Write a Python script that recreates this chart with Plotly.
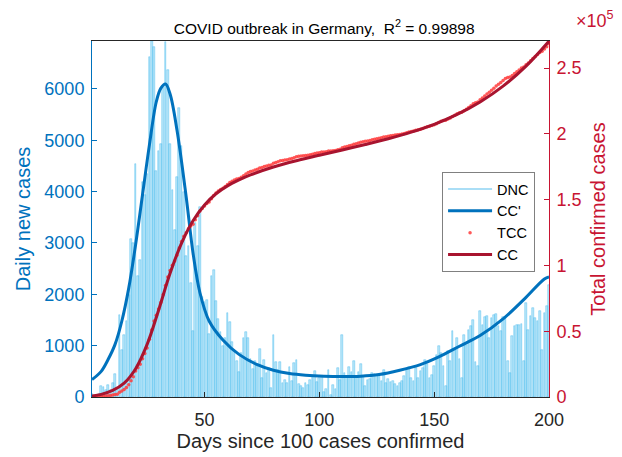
import numpy as np
import plotly.graph_objects as go

# ---- data ----
days = list(range(1, 201))
dnc = [51, 29, 37, 66, 220, 188, 129, 241, 136, 281,
       451, 170, 1597, 910, 1210, 1477, 1985, 3070, 2993, 4528,
       2365, 2660, 4183, 3930, 4337, 6615, 6933, 6824, 4400, 4790,
       4923, 6064, 6922, 6365, 4933, 4031, 3251, 4289, 5633, 4885,
       3990, 2737, 2946, 2218, 1287, 3394, 2945, 3699, 1945, 1842,
       1881, 1226, 2357, 2481, 1870, 1514, 1257, 988, 1154, 1627,
       1470, 1068, 890, 697, 488, 855, 1155, 1268, 1158, 736,
       555, 697, 595, 927, 373, 720, 470, 567, 177, 1216,
       677, 522, 677, 276, 327, 276, 587, 308, 665, 716,
       263, 211, 179, 276, 243, 340, 418, 502, 289, 373,
       405, 100, 159, 535, 36, 243, 159, 567, 340, 1202,
       470, 405, 587, 483, 697, 405, 490, 652, 405, 224,
       340, 353, 470, 457, 438, 405, 308, 522, 276, 353,
       300, 310, 256, 211, 270, 308, 418, 548, 580, 373,
       308, 567, 373, 502, 567, 730, 645, 373, 438, 600,
       827, 989, 859, 600, 211, 892, 697, 1281, 924, 1151,
       743, 373, 1216, 1021, 1313, 1391, 1495, 680, 600, 1680,
       1410, 1565, 1572, 1151, 1541, 1605, 1625, 1391, 1281, 1560,
       1541, 697, 470, 1183, 1378, 1410, 1410, 1430, 700, 1832,
       1313, 1585, 1735, 1541, 1475, 1670, 911, 1638, 1780, 2189]
tcc_before_day1 = 79  # total confirmed before day 1

# fitted CC' curve (daily, left axis) read at sample days
ccp_days = [1, 5, 8, 11, 14, 17, 20, 23, 26, 29, 31, 33, 35, 38, 42, 45, 48, 52, 58,
            65, 73, 80, 87, 94, 102, 110, 118, 126, 135, 144, 152, 161, 170, 180,
            189, 198, 200]
ccp_vals = [340, 500, 730, 1020, 1480, 2120, 2970, 3940, 4910, 5750, 6015, 6095, 5900,
            5200, 3900, 2800, 2030, 1480, 1110, 830, 630, 520, 457, 424, 405, 399,
            405, 438, 522, 632, 782, 989, 1196, 1520, 1897, 2300, 2340]

# fitted CC curve (cumulative, right axis) read at sample days
cc_days = [1, 5, 10, 15, 20, 25, 30, 35, 40, 45, 50, 55, 60, 65, 70, 80, 90, 100,
           110, 120, 130, 140, 150, 160, 170, 180, 190, 200]
cc_vals = [800, 2000, 5000, 10500, 21500, 40000, 66000, 94000, 117000, 134000,
           146000, 154500, 160500, 165000, 168800, 174800, 179600, 183800, 187800,
           191900, 196300, 201300, 207300, 214800, 224300, 236300, 251500, 270500]

x_ticks = [50, 100, 150, 200]
left_ticks = [0, 1000, 2000, 3000, 4000, 5000, 6000]
right_ticks = [0, 50000, 100000, 150000, 200000, 250000]
right_tick_text = ["0", "0.5", "1", "1.5", "2", "2.5"]

tcc = tcc_before_day1 + np.cumsum(dnc)

BLUE = "#0072BD"
RED_AX = "#C81432"
CC_RED = "#A8142F"
DOT_RED = "#FF3B3B"
GRAY = "#262626"
FONT = "Liberation Sans, Arial, Helvetica, sans-serif"

fig = go.Figure()
fig.add_trace(go.Bar(x=days, y=dnc, width=0.75, showlegend=False,
                     marker=dict(color="rgba(77,190,238,0.38)",
                                 line=dict(color="rgba(77,190,238,0.95)", width=0.5)),
                     yaxis="y"))
fig.add_trace(go.Scatter(x=[None], y=[None], mode="lines", name="DNC",
                         line=dict(color="#8ED3F3", width=1.5), yaxis="y"))
fig.add_trace(go.Scatter(x=ccp_days, y=ccp_vals, mode="lines", name="CC'",
                         line=dict(color=BLUE, width=3, shape="spline"), yaxis="y"))
fig.add_trace(go.Scatter(x=days, y=tcc, mode="markers", name="TCC",
                         marker=dict(color=DOT_RED, size=3.5, opacity=0.85), yaxis="y2"))
fig.add_trace(go.Scatter(x=cc_days, y=cc_vals, mode="lines", name="CC",
                         line=dict(color=CC_RED, width=3, shape="spline"), yaxis="y2"))

# the page adds an 8px body margin, so the figure is 8px smaller and margins shifted
fig.update_layout(
    width=614, height=449,
    margin=dict(l=84, r=73, t=33, b=60),
    paper_bgcolor="white", plot_bgcolor="white",
    font=dict(family=FONT, size=18, color=GRAY),
    title=dict(text="COVID outbreak in Germany,  R<sup>2</sup> = 0.99898",
               x=0.515, xanchor="center", y=0.955, yanchor="middle",
               font=dict(size=15.5, color="black")),
    bargap=0,
    xaxis=dict(range=[1, 200], tickvals=x_ticks, ticks="inside", ticklen=5,
               tickcolor=GRAY, showline=True, linecolor=GRAY, linewidth=1, mirror=True,
               showgrid=False, zeroline=False, automargin=False, ticklabelstandoff=6,
               tickfont=dict(size=18, color=GRAY),
               title=dict(text="Days since 100 cases confirmed", font=dict(size=20, color=GRAY),
                          standoff=0)),
    yaxis=dict(range=[0, 6933], tickvals=left_ticks, ticks="inside", ticklen=5,
               tickcolor=BLUE, showline=True, linecolor=BLUE, linewidth=1,
               showgrid=False, zeroline=False, ticklabelstandoff=3, automargin=False,
               tickfont=dict(size=18, color=BLUE),
               title=dict(text="Daily new cases", font=dict(size=20, color=BLUE), standoff=8)),
    yaxis2=dict(range=[0, 270600], tickvals=right_ticks, ticktext=right_tick_text,
                overlaying="y", side="right", ticks="inside", ticklen=5,
                tickcolor=RED_AX, showline=True, linecolor=RED_AX, linewidth=1,
                showgrid=False, zeroline=False, ticklabelstandoff=3, automargin=False,
                tickfont=dict(size=18, color=RED_AX),
                title=dict(text="Total confirmed cases", font=dict(size=20, color=RED_AX),
                           standoff=10)),
    legend=dict(x=0.766, y=0.632, xanchor="left", yanchor="top",
                bgcolor="white", bordercolor="#808080", borderwidth=1,
                font=dict(size=14.5, color="black"), itemwidth=44,
                tracegroupgap=0),
    annotations=[dict(text="\u00d710<sup>5</sup>", xref="paper", yref="paper",
                      x=1.1, y=1.06, xanchor="center", yanchor="middle",
                      showarrow=False, font=dict(size=18, color=RED_AX))],
)

fig.write_html("out.html")
